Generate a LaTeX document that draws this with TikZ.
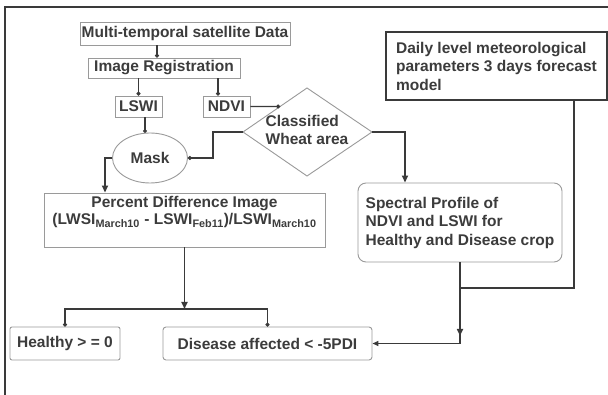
\documentclass[tikz,border=0pt]{standalone}
\usepackage{fontspec}
\setmainfont{Liberation Sans}
\usetikzlibrary{shapes.geometric,arrows.meta,calc}
\definecolor{txt}{HTML}{3C3C3C}
\definecolor{lbord}{HTML}{9A9A9A}
\definecolor{dline}{HTML}{3A3A3A}
\begin{document}
\begin{tikzpicture}[x=1pt,y=-1pt,
  font=\fontsize{15.5}{18.5}\selectfont\bfseries, text=txt,
  box/.style={draw=lbord, line width=0.9pt, fill=white, inner sep=0pt},
  dotarr/.style={draw=dline, line width=1.1pt, -{Circle[length=4pt]}},
  triarr/.style={draw=dline, line width=1.6pt, -{Triangle[length=7pt,width=6pt]}},
  conn/.style={draw=dline, line width=1.6pt}]
\useasboundingbox (0,0) rectangle (608,395);
% frame
\draw[line width=1.3pt, draw=dline] (5,395) -- (5,7) -- (608,7);

% nodes
\node[box, minimum width=210pt, minimum height=23pt] (mts) at (185,33.5) {Multi-temporal satellite Data};
\node[box, minimum width=152pt, minimum height=20pt] (ir) at (164,68) {Image Registration};
\node[box, minimum width=47pt, minimum height=21pt] (lswi) at (138.5,106.5) {LSWI};
\node[box, minimum width=47pt, minimum height=21pt] (ndvi) at (226.5,106.5) {NDVI};
\node[box, ellipse, minimum width=75pt, minimum height=50pt] (mask) at (150,158) {Mask};

\coordinate (cwaL) at (243,132);
\coordinate (cwaT) at (307,88);
\coordinate (cwaR) at (372,132);
\coordinate (cwaB) at (307,176);
\draw[draw=lbord, line width=0.9pt, fill=white] (cwaL) -- (cwaT) -- (cwaR) -- (cwaB) -- cycle;
\node[align=left, inner sep=0pt] (cwa) at (307,130) {Classified\\Wheat area};
\coordinate (cwaNW) at ($(cwaL)!0.58!(cwaT)$);

\node[box, draw=dline, line width=1.6pt, minimum width=221pt, minimum height=68pt, align=left] (daily) at (496.5,66) {Daily level meteorological\\parameters 3 days forecast\\model};
\node[box, rounded corners=8pt, minimum width=204pt, minimum height=79pt, align=left] (spec) at (460,222.5) {Spectral Profile of\\NDVI and LSWI for\\Healthy and Disease crop};
\node[box, minimum width=281pt, minimum height=54pt] (pdi) at (184.5,220) {};
\node[anchor=north, align=center, inner sep=0pt] (pditxt) at ($(pdi.north)+(0,4)$) {Percent Difference Image\\[-2pt](LWSI\textsubscript{March10} - LSWI\textsubscript{Feb11})/LSWI\textsubscript{March10}};
\node[box, rounded corners=2pt, minimum width=110pt, minimum height=33pt] (healthy) at (65,343.5) {Healthy > = 0};
\node[box, rounded corners=3pt, minimum width=209pt, minimum height=33pt] (disease) at (267.5,343.5) {Disease affected < -5PDI};

% connectors
\draw[dotarr] (157,0 |- mts.south) -- (157,0 |- ir.north);
\draw[dotarr] (lswi.north |- ir.south) -- (lswi.north);
\draw[dotarr] (218,0 |- ir.south) -- (218,0 |- ndvi.north);
\draw[dotarr] (145,0 |- lswi.south) -- (145,133);
\draw[dotarr] (ndvi.east) -- (cwaNW);
\draw[dotarr] (cwaL) -- (213,132) -- (213,158) -- (mask.east);
\draw[triarr] (cwaR) -| (405,0 |- spec.north);
\draw[triarr] (mask.west) -- (105,158) -- (105,0 |- pdi.north);
\coordinate (split) at (184.5,309);
\draw[triarr] (pdi.south) -- (split);
\draw[dotarr] (split) -| (healthy.north);
\draw[dotarr] (split) -| (disease.north);
\draw[conn] (574,0 |- daily.south) -- (574,288) -- (460,288);
\draw[triarr] (spec.south) -- (460,336);
\draw[conn, -{Triangle[length=6pt,width=5pt]}] (460,334) -- (spec.south |- disease.east) -- (disease.east);
\end{tikzpicture}
\end{document}
